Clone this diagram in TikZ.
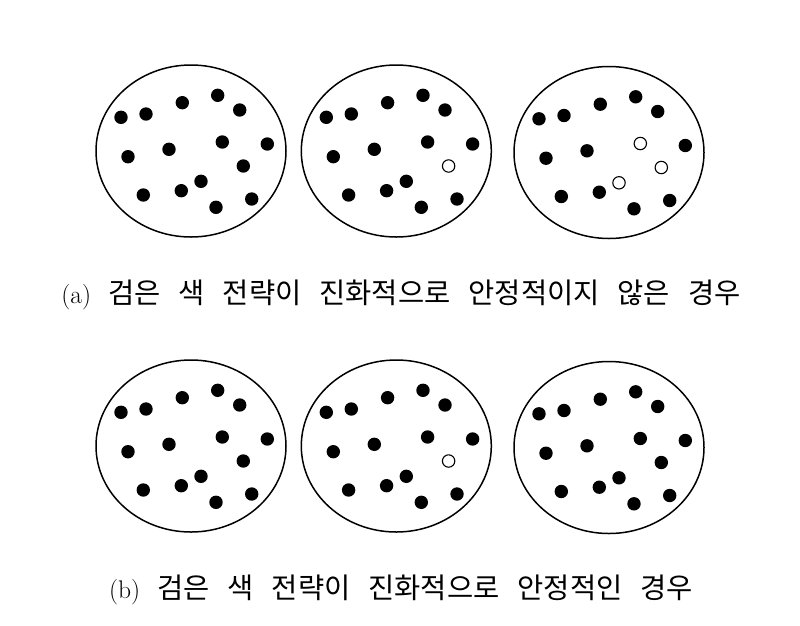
\documentclass[tikz,border=0pt]{standalone}
\usepackage{fontspec}
\newfontfamily\krfont{Noto Sans CJK KR}
\usetikzlibrary{shapes.geometric}
\newcommand\popfigure[1]{%
  \node[popul] (#1) at (0,0) {};
  \foreach \x/\y [count=\i] in {-70/-33.7, -45/-37, -8.7/-48.3, 26.7/-55.7, 48.7/-41,
      31.3/-9, 76.3/-7, -63/5.7, -22/-1.7, 52.3/15,
      10/30.3, -9.7/39.7, -47.7/44, 25/56.3, 60.7/48}
    \node[blackdot, k\i/.try] (#1-\i) at (\x,\y) {};
}
\newcommand\captext[2]{{\fontsize{25.5}{30}\selectfont (#1)}\hspace{17pt}{\krfont\fontsize{28.5}{32}\selectfont\spaceskip=18pt\relax #2}}
\begin{document}
\begin{tikzpicture}[x=1pt,y=-1pt,
  popul/.style={draw, ellipse, line width=1.5pt, minimum width=190pt, minimum height=172pt, inner sep=0pt},
  blackdot/.style={circle, fill=black, minimum size=13.4pt, inner sep=0pt},
  whitedot/.style={fill=white, draw=black, line width=1.1pt, minimum size=12.4pt},
  caption/.style={inner sep=0pt, anchor=base}]
\useasboundingbox (0,0) rectangle (800,625);
\begin{scope}[shift={(191,151)}] \popfigure{a1} \end{scope}
\begin{scope}[shift={(396.3,151)}, k10/.style=whitedot] \popfigure{a2} \end{scope}
\begin{scope}[shift={(609,152.5)}, k6/.style=whitedot, k10/.style=whitedot, k11/.style=whitedot] \popfigure{a3} \end{scope}
\begin{scope}[shift={(191,446)}] \popfigure{b1} \end{scope}
\begin{scope}[shift={(396.3,446)}, k10/.style=whitedot] \popfigure{b2} \end{scope}
\begin{scope}[shift={(609,447.5)}] \popfigure{b3} \end{scope}
\node[caption] (capa) at (401,303) {\captext{a}{검은 색 전략이 진화적으로 안정적이지 않은 경우}};
\node[caption] (capb) at (401,598) {\captext{b}{검은 색 전략이 진화적으로 안정적인 경우}};
\end{tikzpicture}
\end{document}
